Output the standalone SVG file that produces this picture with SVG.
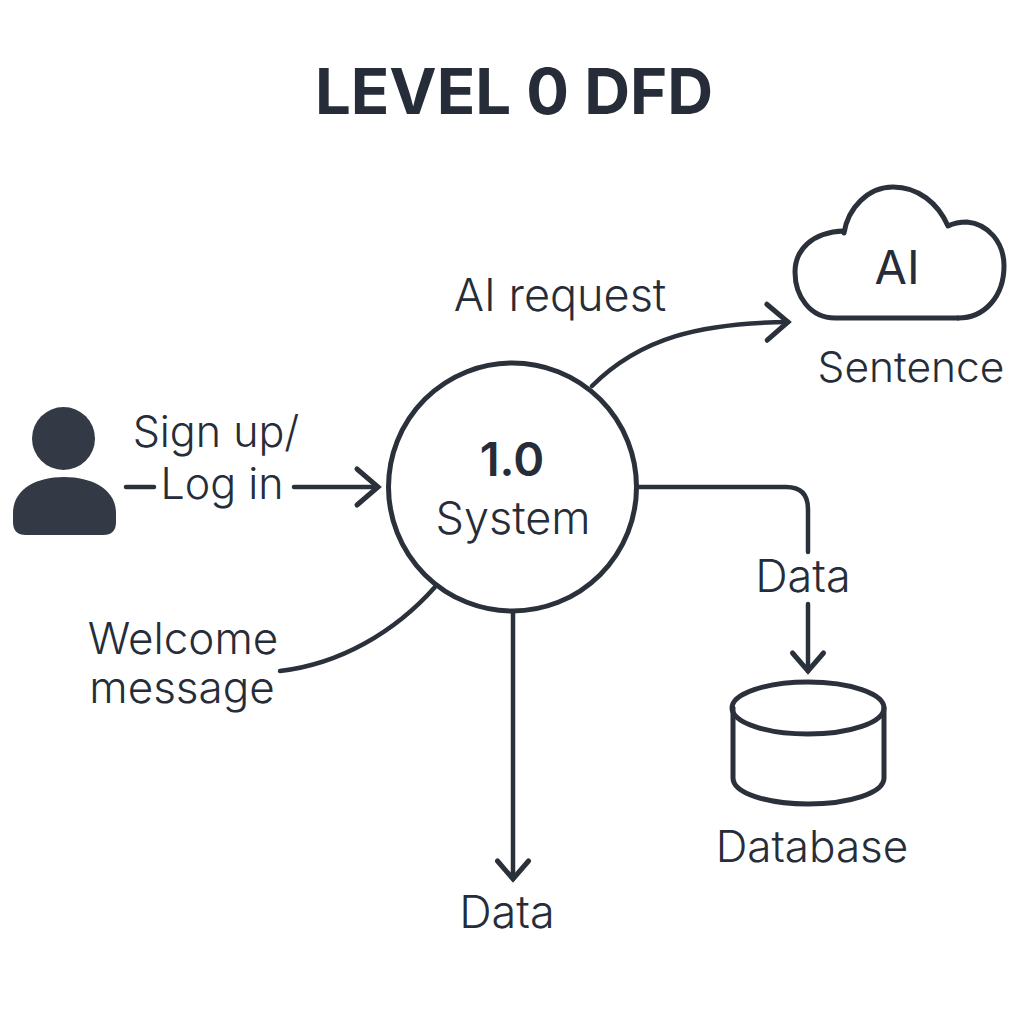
<svg xmlns="http://www.w3.org/2000/svg" width="1024" height="1024" viewBox="0 0 1024 1024">
<defs>
<style>
text{font-family:Inter,"Liberation Sans",sans-serif;fill:#262d38;text-anchor:middle;font-size:44px;font-weight:340}
.l{fill:none;stroke:#2b313b;stroke-width:4.5;stroke-linecap:round;stroke-linejoin:round}
.h{fill:none;stroke:#2b313b;stroke-width:5;stroke-linecap:round;stroke-linejoin:miter}
.s{stroke-width:5}
</style>
<marker id="a" markerUnits="userSpaceOnUse" markerWidth="40" markerHeight="50" refX="24" refY="22" orient="auto" overflow="visible">
<path class="h" d="M3 4L24 22L3 40"/>
</marker>
<marker id="b" markerUnits="userSpaceOnUse" markerWidth="40" markerHeight="50" refX="24" refY="22" orient="auto" overflow="visible">
<path class="h" d="M6 6.500L24 22L6 37.500"/>
</marker>
</defs>
<rect width="1024" height="1024" fill="#fff"/>
<text id="title" x="514" y="114" style="font-size:63.500px;font-weight:700">LEVEL 0 DFD</text>
<g id="connectors">
<path class="l" d="M592 386C640 338 700 323 788 322" marker-end="url(#a)"/>
<path class="l" d="M126 487H154"/>
<path class="l" d="M294 487H378" marker-end="url(#a)"/>
<path class="l" d="M435 587C395 632 340 664 280 671"/>
<path class="l" d="M513 612V879" marker-end="url(#b)"/>
<path class="l" d="M638 487H786Q808 487 808 509V552"/>
<path class="l" d="M808 604V671" marker-end="url(#b)"/>
</g>
<g id="actor">
<circle cx="63.500" cy="438.500" r="31.500" fill="#343a45"/>
<path d="M13 522V513C13 490 35 477 64 477S116 490 116 513V522Q116 535 103 535H26Q13 535 13 522Z" fill="#343a45"/>
<text x="216" y="447" style="font-size:43px">Sign up/</text>
<text x="222" y="499" style="font-size:43px">Log in</text>
</g>
<g id="system">
<circle cx="512.500" cy="487" r="124" fill="#fff" stroke="#2b313b" stroke-width="5"/>
<text x="512" y="476" style="font-weight:600;font-size:47px">1.0</text>
<text x="513" y="534" style="font-size:45px">System</text>
</g>
<g id="cloud">
<path class="l s" d="M958 318H835C810 318 795 296 795 272C795 250 812 232 844 231"/>
<path class="l s" d="M844 233C848 208 868 187 893 187C918 187 938 203 948 226C952 224 960 222 967 222C988 224 1004 242 1004 266C1004 296 985 318 958 318"/>
<text x="897" y="284" style="font-size:47px;font-weight:400">AI</text>
<text x="911" y="382" style="font-size:42.500px">Sentence</text>
</g>
<g id="database">
<path class="l s" d="M733 708V778C733 793 767 804 808 804S884 793 884 778V708"/>
<ellipse class="l s" cx="808" cy="708" rx="76" ry="26"/>
<text x="812" y="862">Database</text>
</g>
<g id="labels">
<text x="560" y="311" style="font-size:45px">AI request</text>
<text x="183" y="654">Welcome</text>
<text x="182" y="703">message</text>
<text x="803" y="592" style="font-size:45px">Data</text>
<text x="507" y="928" style="font-size:45px">Data</text>
</g>
</svg>
